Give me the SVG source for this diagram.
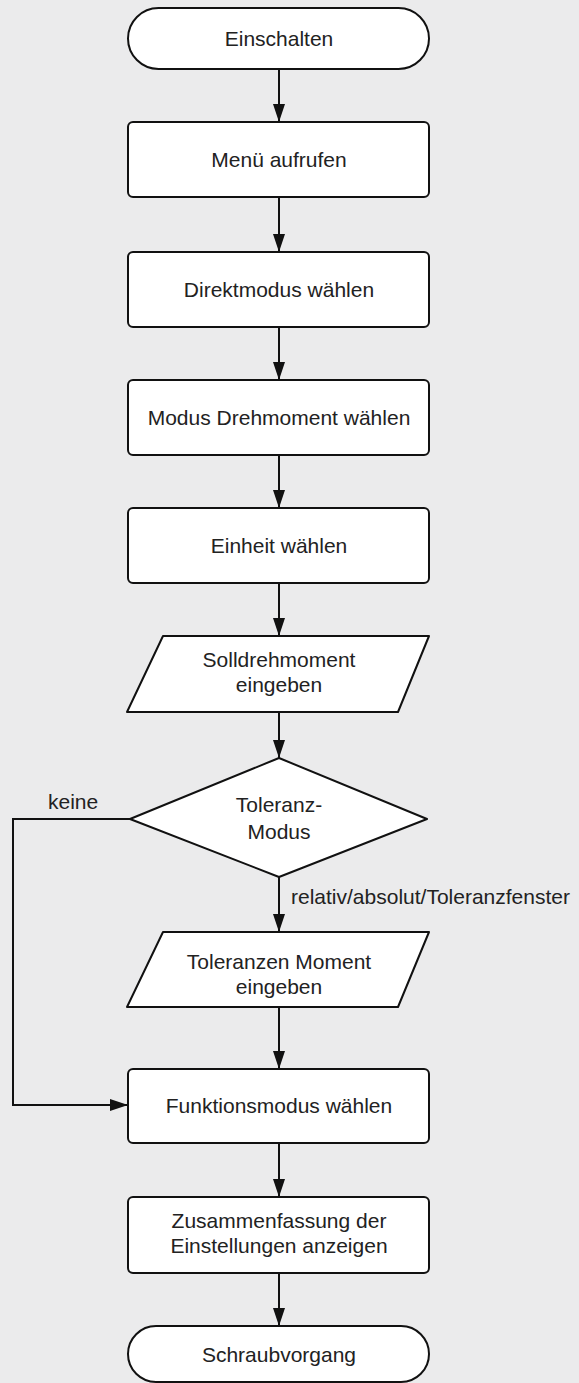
<svg xmlns="http://www.w3.org/2000/svg" width="579" height="1383" viewBox="0 0 579 1383">
<defs>
<style>
.shape{fill:#fff;stroke:#111;stroke-width:2;stroke-linejoin:round}
.t{font-family:"Liberation Sans",Arial,sans-serif;font-size:21px;fill:#222;text-anchor:middle}
.lbl{font-family:"Liberation Sans",Arial,sans-serif;font-size:21px;fill:#222}
.c{fill:none;stroke:#111;stroke-width:2}
</style>
<marker id="ah" markerUnits="userSpaceOnUse" markerWidth="18" markerHeight="12" refX="18" refY="6" orient="auto">
<path d="M0,0 L18,6 L0,12 z" fill="#111"/>
</marker>
</defs>
<rect width="579" height="1383" fill="#ebebec"/>
<g id="connectors">
<line class="c" x1="279" y1="69" x2="279" y2="122" marker-end="url(#ah)"/>
<line class="c" x1="279" y1="197" x2="279" y2="252" marker-end="url(#ah)"/>
<line class="c" x1="279" y1="327" x2="279" y2="380" marker-end="url(#ah)"/>
<line class="c" x1="279" y1="455" x2="279" y2="508" marker-end="url(#ah)"/>
<line class="c" x1="279" y1="583" x2="279" y2="636" marker-end="url(#ah)"/>
<line class="c" x1="279" y1="712" x2="279" y2="758" marker-end="url(#ah)"/>
<line class="c" x1="279" y1="877" x2="279" y2="932" marker-end="url(#ah)"/>
<line class="c" x1="279" y1="1007" x2="279" y2="1069" marker-end="url(#ah)"/>
<line class="c" x1="279" y1="1143" x2="279" y2="1197" marker-end="url(#ah)"/>
<line class="c" x1="279" y1="1273" x2="279" y2="1326" marker-end="url(#ah)"/>
<path class="c" d="M130,819 H13 V1105 H128" marker-end="url(#ah)"/>
<text class="lbl" x="48" y="809">keine</text>
<text class="lbl" x="291" y="904">relativ/absolut/Toleranzfenster</text>
</g>
<g id="start">
<rect class="shape" x="128" y="8" width="301" height="61" rx="30.5"/>
<text class="t" x="279" y="46">Einschalten</text>
</g>
<g id="menu">
<rect class="shape" x="128" y="122" width="301" height="75" rx="5"/>
<text class="t" x="279" y="167">Menü aufrufen</text>
</g>
<g id="direktmodus">
<rect class="shape" x="128" y="252" width="301" height="75" rx="5"/>
<text class="t" x="279" y="297">Direktmodus wählen</text>
</g>
<g id="drehmoment">
<rect class="shape" x="128" y="380" width="301" height="75" rx="5"/>
<text class="t" x="279" y="425">Modus Drehmoment wählen</text>
</g>
<g id="einheit">
<rect class="shape" x="128" y="508" width="301" height="75" rx="5"/>
<text class="t" x="279" y="553">Einheit wählen</text>
</g>
<g id="solldrehmoment">
<path class="shape" d="M163,636 H429 L398,712 H127 Z"/>
<text class="t" x="279" y="667">Solldrehmoment</text>
<text class="t" x="279" y="692">eingeben</text>
</g>
<g id="toleranzmodus">
<path class="shape" d="M279,758 L427,819 L279,877 L130,819 Z"/>
<text class="t" x="279" y="812">Toleranz-</text>
<text class="t" x="279" y="839">Modus</text>
</g>
<g id="toleranzen">
<path class="shape" d="M163,932 H429 L398,1007 H127 Z"/>
<text class="t" x="279" y="969">Toleranzen Moment</text>
<text class="t" x="279" y="994">eingeben</text>
</g>
<g id="funktionsmodus">
<rect class="shape" x="128" y="1069" width="301" height="74" rx="5"/>
<text class="t" x="279" y="1113">Funktionsmodus wählen</text>
</g>
<g id="zusammenfassung">
<rect class="shape" x="128" y="1197" width="301" height="76" rx="5"/>
<text class="t" x="279" y="1228">Zusammenfassung der</text>
<text class="t" x="279" y="1253">Einstellungen anzeigen</text>
</g>
<g id="ende">
<rect class="shape" x="128" y="1326" width="301" height="56" rx="28"/>
<text class="t" x="279" y="1362">Schraubvorgang</text>
</g>
</svg>
